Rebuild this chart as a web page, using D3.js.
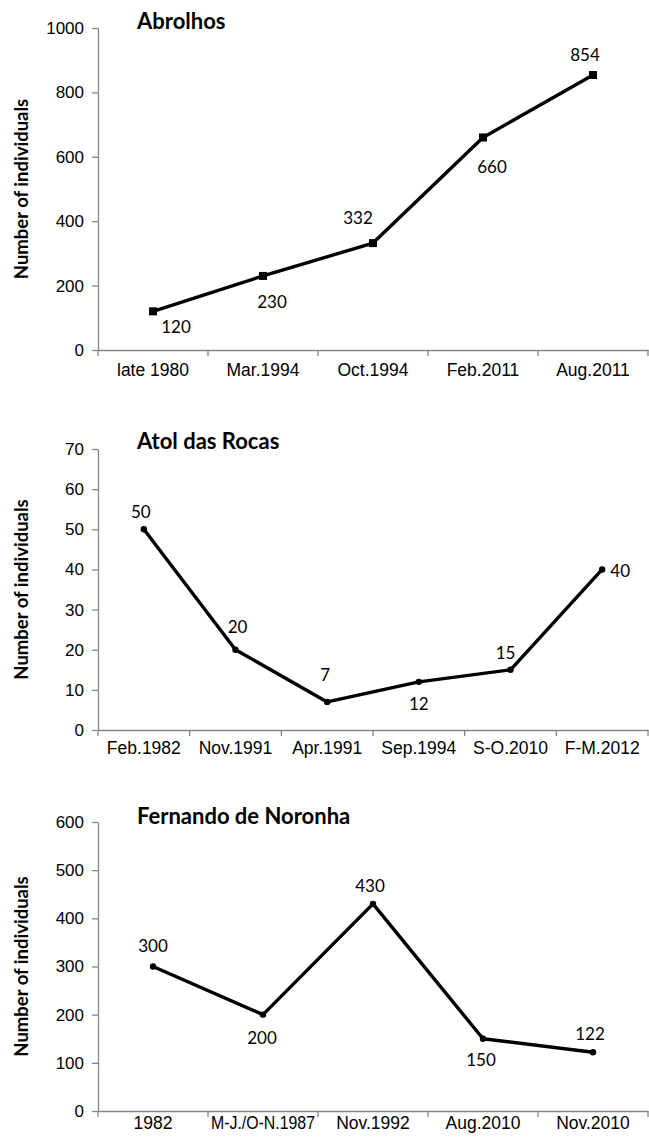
<!DOCTYPE html>
<html>
<head>
<meta charset="utf-8">
<script src="https://cdn.jsdelivr.net/npm/d3@7"></script>
<style>
  body { margin: 0; background: #fff; }
  svg { display: block; font-family: Lato, "Open Sans", sans-serif; }
</style>
</head>
<body>
<svg id="chart" width="649" height="1140"></svg>
<script>
// Abrolhos
const abrolhosDates = ["late 1980", "Mar.1994", "Oct.1994", "Feb.2011", "Aug.2011"];
const abrolhosCounts = [120, 230, 332, 660, 854];
const abrolhosTicks = [0, 200, 400, 600, 800, 1000];

// Atol das Rocas
const rocasDates = ["Feb.1982", "Nov.1991", "Apr.1991", "Sep.1994", "S-O.2010", "F-M.2012"];
const rocasCounts = [50, 20, 7, 12, 15, 40];
const rocasTicks = [0, 10, 20, 30, 40, 50, 60, 70];

// Fernando de Noronha
const noronhaDates = ["1982", "M-J./O-N.1987", "Nov.1992", "Aug.2010", "Nov.2010"];
const noronhaCounts = [300, 200, 430, 150, 122];
const noronhaTicks = [0, 100, 200, 300, 400, 500, 600];

const svg = d3.select("#chart");

// layout per panel (label offsets are pixel nudges, like Excel's hand-placed labels)
const panels = [
    {
        title: "Abrolhos", dates: abrolhosDates, counts: abrolhosCounts, ticks: abrolhosTicks,
        top: 28, bottom: 350, titleY: 29, xPad: 14, marker: "square",
        offsets: [[23, 15], [9, 26], [-15, -26], [9, 29], [-8, -21]]
    },
    {
        title: "Atol das Rocas", dates: rocasDates, counts: rocasCounts, ticks: rocasTicks,
        top: 449, bottom: 730, titleY: 449, xPad: 12, marker: "circle",
        offsets: [[-3, -18], [2, -23], [-2, -27], [0, 22], [-5, -17], [18, 1]]
    },
    {
        title: "Fernando de Noronha", dates: noronhaDates, counts: noronhaCounts, ticks: noronhaTicks,
        top: 822, bottom: 1111, titleY: 824, xPad: 6, marker: "circle",
        offsets: [[0, -21], [-1, 23], [-3, -18], [-2, 21], [-3, -19]]
    }
];

const left = 98, right = 648;
const axisColor = "#868686";

panels.forEach(p => {
    const g = svg.append("g");

    const x = d3.scaleBand().domain(p.dates).range([left, right]).padding(0);
    const y = d3.scaleLinear().domain(d3.extent(p.ticks)).range([p.bottom, p.top]);

    // y axis
    const yAxis = g.append("g")
        .attr("transform", `translate(${left},0)`)
        .call(d3.axisLeft(y).tickValues(p.ticks).tickFormat(d3.format("d"))
            .tickSize(6).tickPadding(8).tickSizeOuter(0));
    yAxis.select(".domain").attr("stroke", axisColor).attr("stroke-width", 1.3);
    yAxis.selectAll(".tick line").attr("stroke", axisColor).attr("stroke-width", 1.3);
    yAxis.selectAll(".tick text").attr("font-size", 17).attr("fill", "#000");

    // x axis: labels centred in each band, ticks on band edges
    const xAxis = g.append("g")
        .attr("transform", `translate(0,${p.bottom})`)
        .call(d3.axisBottom(x).tickSize(0).tickPadding(p.xPad).tickSizeOuter(0));
    xAxis.select(".domain").attr("stroke", axisColor).attr("stroke-width", 1.3);
    xAxis.selectAll(".tick text").attr("font-size", 17.5).attr("fill", "#000");
    xAxis.selectAll(".tick text").filter(d => d.length > 10)
        .attr("textLength", 104).attr("lengthAdjust", "spacingAndGlyphs");

    const edges = p.dates.map(d => x(d)).concat([right]);
    g.append("g").selectAll("line").data(edges).join("line")
        .attr("x1", d => d).attr("x2", d => d)
        .attr("y1", p.bottom).attr("y2", p.bottom + 6)
        .attr("stroke", axisColor).attr("stroke-width", 1.3);

    // titles
    g.append("text")
        .attr("x", 137).attr("y", p.titleY)
        .attr("font-size", 22).attr("font-weight", "bold")
        .text(p.title);

    g.append("text")
        .attr("transform", `translate(21,${(p.top + p.bottom) / 2}) rotate(-90)`)
        .attr("text-anchor", "middle").attr("dominant-baseline", "central")
        .attr("font-size", 18.5).attr("font-weight", "bold")
        .text("Number of individuals");

    // series
    const pts = p.dates.map((d, i) => ({ date: d, value: p.counts[i], off: p.offsets[i] }));
    const cx = d => x(d.date) + x.bandwidth() / 2;

    const line = d3.line().x(cx).y(d => y(d.value));
    g.append("path").datum(pts)
        .attr("d", line)
        .attr("fill", "none").attr("stroke", "#000").attr("stroke-width", 3.4)
        .attr("stroke-linejoin", "round");

    if (p.marker === "square") {
        g.append("g").selectAll("rect").data(pts).join("rect")
            .attr("x", d => cx(d) - 4).attr("y", d => y(d.value) - 4)
            .attr("width", 8).attr("height", 8).attr("fill", "#000");
    } else {
        g.append("g").selectAll("circle").data(pts).join("circle")
            .attr("cx", cx).attr("cy", d => y(d.value))
            .attr("r", 3.2).attr("fill", "#000");
    }

    g.append("g").selectAll("text").data(pts).join("text")
        .attr("x", d => cx(d) + d.off[0])
        .attr("y", d => y(d.value) + d.off[1])
        .attr("text-anchor", "middle").attr("dominant-baseline", "central")
        .attr("font-size", 17)
        .text(d => d.value);
});
</script>
</body>
</html>
